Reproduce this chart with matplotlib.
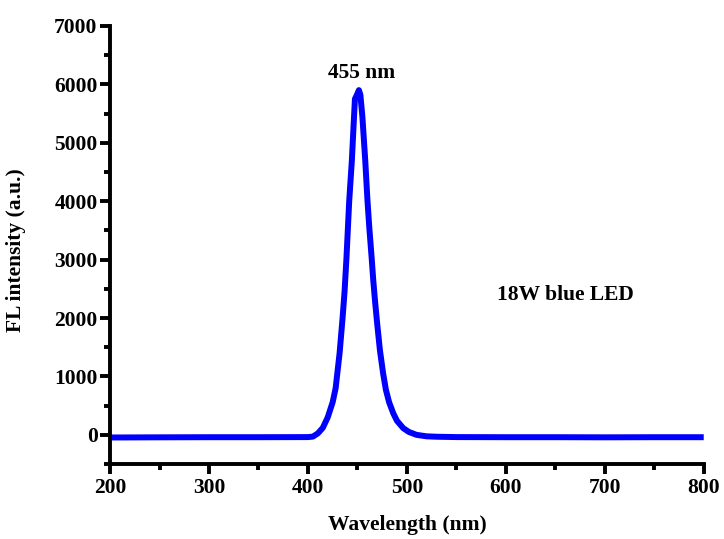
import matplotlib
matplotlib.use("Agg")
import matplotlib.pyplot as plt
from matplotlib.ticker import MultipleLocator

# emission spectrum of the 18 W blue LED
wavelength = [200, 250, 300, 350, 400, 405, 410, 415, 420, 425, 428, 432,
              435, 437, 439, 441.7, 444.4, 446, 447.5, 449.5, 451.5, 453,
              455, 457.9, 460.2, 462, 464.3, 466, 467.7, 470, 472.7, 476,
              478.8, 482, 486.2, 490, 496.3, 502, 509.8, 520, 530, 550,
              600, 650, 700, 750, 800]
intensity = [-45, -42, -40, -40, -38, -30, 25, 120, 300, 560, 800, 1400,
             2000, 2450, 3050, 4000, 4700, 5250, 5750, 5820, 5900, 5820,
             5450, 4700, 4000, 3550, 3050, 2650, 2310, 1900, 1455, 1050,
             770, 560, 370, 240, 115, 50, 0, -25, -32, -38,
             -40, -40, -42, -40, -40]

x_ticks = [200, 300, 400, 500, 600, 700, 800]
y_ticks = [0, 1000, 2000, 3000, 4000, 5000, 6000, 7000]

plt.rcParams["font.family"] = ["Liberation Serif", "DejaVu Serif"]
plt.rcParams["font.weight"] = "bold"

fig = plt.figure(figsize=(7.24, 5.39), dpi=100)
ax = fig.add_axes([0.152, 0.139, 0.820, 0.813])

ax.plot(wavelength, intensity, color="#0000ff", lw=4.3, solid_capstyle="butt")

ax.set_xlim(200, 800)
ax.set_ylim(-500, 7000)
ax.set_xticks(x_ticks)
ax.set_yticks(y_ticks)
ax.xaxis.set_minor_locator(MultipleLocator(50))
ax.yaxis.set_minor_locator(MultipleLocator(500))

for side in ("top", "right"):
    ax.spines[side].set_visible(False)
for side in ("left", "bottom"):
    ax.spines[side].set_linewidth(2.8)

ax.tick_params(which="major", direction="out", length=7, width=2.8,
               labelsize=15.5)
ax.tick_params(which="minor", direction="out", length=4.5, width=2.8)
ax.tick_params(axis="x", which="major", pad=3)
ax.tick_params(axis="y", which="major", pad=2)
for lab in ax.get_xticklabels() + ax.get_yticklabels():
    lab.set_fontweight("bold")

ax.set_xlabel("Wavelength (nm)", fontsize=15.5, fontweight="bold")
ax.set_ylabel("FL intensity (a.u.)", fontsize=15.5, fontweight="bold")
ax.xaxis.set_label_coords(0.5, -0.116)
ax.yaxis.set_label_coords(-0.141, 0.489)

ax.text(454, 6200, "455 nm", ha="center", va="center",
        fontsize=15.5, fontweight="bold")
ax.text(660, 2400, "18W blue LED", ha="center", va="center",
        fontsize=15.5, fontweight="bold")

fig.savefig("out.png", dpi=100)
